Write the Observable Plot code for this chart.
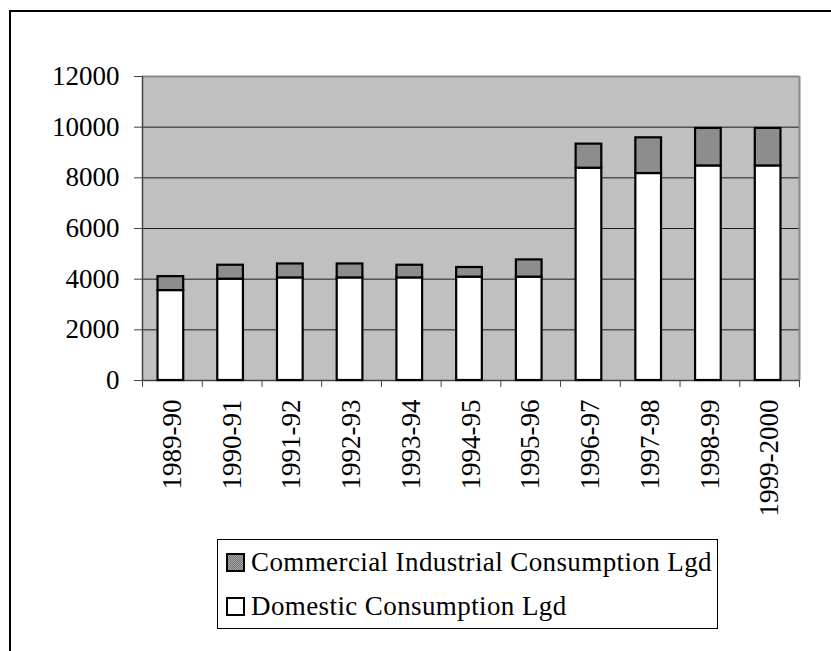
<!DOCTYPE html>
<html>
<head>
<meta charset="utf-8">
<script src="https://cdn.jsdelivr.net/npm/d3@7"></script>
<script src="https://cdn.jsdelivr.net/npm/@observablehq/plot@0.6"></script>
<style>
  html, body { margin: 0; padding: 0; background: #fff; }
  body { position: relative; width: 831px; height: 651px; overflow: hidden; font-family: 'Liberation Serif'; }
  #border { position: absolute; left: 9px; top: 10px; width: 900px; height: 800px; border-left: 2px solid #000; border-top: 2px solid #000; box-sizing: border-box; }
  #chart { position: absolute; left: 0; top: 0; }
  #legend { position: absolute; left: 217px; top: 539px; width: 501px; height: 90px; border: 1px solid #000; box-sizing: border-box; background: #fff; font-size: 27px; letter-spacing: 0.4px; color: #000; }
  .item { position: absolute; left: 8px; display: flex; align-items: center; white-space: nowrap; line-height: 30px; }
  .item svg { margin-right: 6px; }
</style>
</head>
<body>
<div id="border"></div>
<div id="chart"></div>
<div id="legend" style="font-family:'Liberation Serif'"></div>
<script>
const years = ["1989-90","1990-91","1991-92","1992-93","1993-94","1994-95","1995-96","1996-97","1997-98","1998-99","1999-2000"];
const domestic = [3550, 4000, 4050, 4050, 4050, 4080, 4080, 8380, 8170, 8470, 8470];
const commercial = [550, 550, 550, 550, 500, 380, 680, 950, 1410, 1480, 1480];
const seriesNames = ["Domestic Consumption Lgd", "Commercial Industrial Consumption Lgd"];
const yTicks = [0, 2000, 4000, 6000, 8000, 10000, 12000];

const data = [];
years.forEach((y, i) => {
  data.push({year: y, series: seriesNames[0], value: domestic[i]});
  data.push({year: y, series: seriesNames[1], value: commercial[i]});
});

const FONT = "Liberation Serif";
const width = 831, height = 530;
const mL = 142, mR = 32, mT = 76, mB = 150;
const step = (width - mL - mR) / years.length;

function patternDef(id) {
  return `<defs><pattern id="${id}" width="2" height="2" patternUnits="userSpaceOnUse">
<rect width="2" height="2" fill="#a6a6a6"/><rect width="1" height="1" fill="#747474"/><rect x="1" y="1" width="1" height="1" fill="#747474"/></pattern></defs>`;
}

const chart = Plot.plot({
  width, height,
  marginLeft: mL, marginRight: mR, marginTop: mT, marginBottom: mB,
  style: {fontSize: "27px", color: "#000", background: "transparent"},
  x: {domain: years, paddingInner: 0.57, paddingOuter: 0.285, round: false, label: null},
  y: {domain: [0, 12000], label: null},
  color: {domain: seriesNames, range: ["#ffffff", "url(#hatch)"]},
  marks: [
    Plot.frame({fill: "#c0c0c0", stroke: null}),
    Plot.gridY(yTicks, {stroke: "#000", strokeOpacity: 0.85, strokeWidth: 1}),
    Plot.ruleY([12000], {stroke: "#8a8a8a", strokeWidth: 2}),
    Plot.ruleX([years[years.length - 1]], {dx: step / 2, y1: 0, y2: 12000, stroke: "#8a8a8a", strokeWidth: 2}),
    Plot.ruleX([years[0]], {dx: -step / 2, y1: 0, y2: 12000, stroke: "#444", strokeWidth: 1.5}),
    Plot.ruleY([0], {stroke: "#444", strokeWidth: 1.5}),
    Plot.axisY({ticks: yTicks, tickSize: 8, tickPadding: 15, tickFormat: d3.format("d"), fontSize: 27, fontFamily: FONT, stroke: "#444"}),
    Plot.axisX({ticks: years, tickSize: 7, text: null, dx: -step / 2, stroke: "#444"}),
    Plot.axisX({ticks: [years[years.length - 1]], tickSize: 7, text: null, dx: step / 2, stroke: "#444"}),
    Plot.axisX({ticks: years, tickSize: 0, tickPadding: 19, tickRotate: -90, fontSize: 27, fontFamily: FONT, label: null}),
    Plot.barY(data, {x: "year", y: "value", fill: "series", stroke: "#000", strokeWidth: 2.2, dx: -1.5})
  ]
});
chart.insertAdjacentHTML("afterbegin", patternDef("hatch"));
chart.querySelectorAll("text").forEach(t => t.setAttribute("font-family", FONT));
chart.style.fontFamily = "'Liberation Serif'";
document.getElementById("chart").appendChild(chart);

// legend
const legend = document.getElementById("legend");
const legendItems = [seriesNames[1], seriesNames[0]];
const tops = [7, 51];
legendItems.forEach((name, i) => {
  const div = document.createElement("div");
  div.className = "item";
  div.style.top = tops[i] + "px";
  const isC = name === seriesNames[1];
  const fill = isC ? "url(#hatchL)" : "#fff";
  const defs = isC ? patternDef("hatchL") : "";
  div.innerHTML = `<svg width="19" height="19">${defs}<rect x="1" y="1" width="17" height="17" fill="${fill}" stroke="#000" stroke-width="2"/></svg><span style="font-family:'Liberation Serif'">${name}</span>`;
  legend.appendChild(div);
});
</script>
</body>
</html>
